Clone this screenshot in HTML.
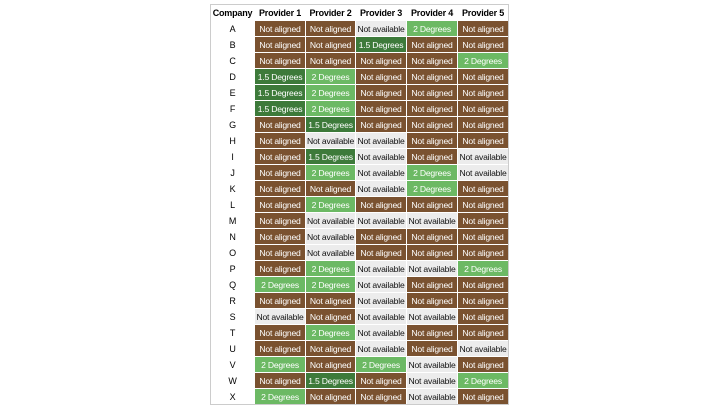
<!DOCTYPE html>
<html><head><meta charset="utf-8"><style>
body{margin:0;width:720px;height:405px;background:#fff;overflow:hidden}
#t{position:absolute;left:210px;top:4px;display:grid;grid-template-columns:43px 50px 49px 50px 50px 50px;grid-auto-rows:15px;gap:1px;background:#fff;border:1px solid #ccc;font-family:"Liberation Sans",Arial,sans-serif;font-size:8.6px;letter-spacing:-0.2px}
#t div{display:flex;align-items:center;justify-content:center;white-space:nowrap;overflow:hidden}
.h{font-weight:bold;color:#000;font-size:9px}
.c{color:#000;font-size:9px}
.n{background:#7a5230;color:#fff}
.a{background:#ececec;color:#111}
.d{background:#3d7a3a;color:#fff}
.g{background:#6cb964;color:#fff}
</style></head><body>
<div id="t"></div>
<script>
var rows={A:"nnagn",B:"nndnn",C:"nnnng",D:"dgnnn",E:"dgnnn",F:"dgnnn",G:"ndnnn",H:"naann",I:"ndana",J:"ngaga",K:"nnagn",L:"ngnnn",M:"naaan",N:"nannn",O:"nannn",P:"ngaag",Q:"ggann",R:"nnann",S:"anaan",T:"ngann",U:"nnana",V:"gngan",W:"ndnag",X:"gnnan"};
var txt={n:"Not aligned",a:"Not available",d:"1.5 Degrees",g:"2 Degrees"};
var h='<div class="h">Company</div>';
for(var i=1;i<=5;i++)h+='<div class="h">Provider '+i+'</div>';
for(var k in rows){h+='<div class="c">'+k+'</div>';for(var j=0;j<5;j++){var c=rows[k][j];h+='<div class="'+c+'">'+txt[c]+'</div>';}}
document.getElementById('t').innerHTML=h;
</script>
</body></html>
